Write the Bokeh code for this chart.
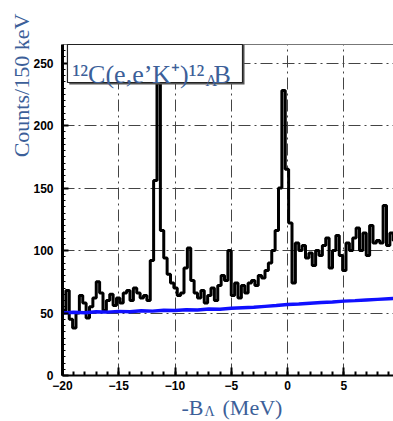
import math
from bokeh.plotting import figure
from bokeh.models import (Range1d, LinearAxis, FixedTicker, Label, BoxAnnotation)
from bokeh.embed import file_html
from bokeh.resources import INLINE

# ---------------- data ----------------
bin_start = -20.0
bin_width = 0.3
counts = [52, 68, 45, 38, 50, 64, 58, 46, 55, 62,
          75, 66, 52, 60, 65, 56, 62, 58, 66, 68,
          60, 70, 66, 62, 64, 60, 92, 156, 234, 116,
          94, 81, 74, 70, 64, 66, 86, 102, 76, 66,
          62, 68, 58, 64, 70, 60, 72, 80, 76, 100,
          64, 74, 62, 72, 66, 74, 76, 72, 80, 78,
          84, 90, 100, 116, 150, 228, 165, 122, 74, 106,
          100, 104, 94, 98, 88, 100, 96, 104, 110, 86,
          100, 112, 96, 84, 106, 100, 110, 118, 100, 114,
          96, 120, 106, 108, 106, 136, 104, 114, 108]

bg_x = [-20, -19, -18, -17, -16, -15, -14, -13, -12, -11,
        -10, -9, -8, -7, -6, -5, -4, -3, -2, -1,
        0, 1, 2, 3, 4, 5, 6, 7, 8, 9, 9.5]
bg_y = [50.0, 50.6, 50.2, 51.0, 50.7, 51.3, 51.0, 51.8, 51.5, 52.2,
        52.0, 52.6, 52.4, 53.2, 53.0, 53.8, 54.2, 54.6, 55.3, 56.0,
        56.8, 57.2, 57.8, 58.4, 58.8, 59.5, 59.9, 60.4, 60.9, 61.4, 61.6]

x_ticks = [-20, -15, -10, -5, 0, 5]
y_ticks = [0, 50, 100, 150, 200, 250]
x_min, x_max = -20.0, 9.42
y_min, y_max = 0.0, 264.8

# ---------------- figure ----------------
# frame covers the whole canvas; axes are pinned at x=-20 / y=0
W, H = 393, 421
p = figure(width=W, height=H, output_backend="svg", toolbar_location=None,
           x_range=Range1d(-25.511, 9.422), y_range=Range1d(-36.8, 300.0),
           min_border=0)
p.outline_line_color = None
p.background_fill_color = "white"
p.border_fill_color = "white"

# grid
for g in (p.xgrid, p.ygrid):
    g.grid_line_color = "#444444"
    g.grid_line_dash = "12 4 2 4"
    g.grid_line_width = 1
p.xgrid.ticker = FixedTicker(ticks=[-15, -10, -5, 0, 5])
p.ygrid.ticker = FixedTicker(ticks=[50, 100, 150, 200, 250])
gx, gy = p.xgrid[0], p.ygrid[0]
if "cross_bounds" in gx.properties():
    gx.cross_bounds = (y_min, y_max)
    gy.cross_bounds = (x_min, x_max)

# axes
xa = p.xaxis[0]
xa.ticker = FixedTicker(ticks=x_ticks, minor_ticks=[v for v in range(-20, 10)])
xa.fixed_location = y_min
xa.bounds = (x_min, x_max)
ya = p.yaxis[0]
ya.ticker = FixedTicker(ticks=y_ticks, minor_ticks=[v for v in range(0, 265, 5)])
ya.fixed_location = x_min
ya.bounds = (y_min, y_max)
for ax in (xa, ya):
    ax.axis_line_color = "black"
    ax.major_tick_line_color = "black"
    ax.minor_tick_line_color = "black"
    ax.major_tick_out = 0
    ax.minor_tick_out = 0
    ax.major_label_text_font = "Liberation Sans"
    ax.major_label_text_font_style = "bold"
    ax.major_label_text_font_size = "12px"
    ax.major_label_text_color = "black"
xa.axis_line_width = 2
xa.major_tick_in = 8
xa.minor_tick_in = 4
xa.major_tick_line_width = 2
xa.minor_tick_line_width = 2
xa.major_label_standoff = 5
ya.axis_line_width = 3
ya.major_tick_in = 6
ya.minor_tick_in = 3
ya.major_tick_line_width = 2
ya.major_label_standoff = 9

top = LinearAxis(ticker=FixedTicker(ticks=[]), axis_line_color="#777777",
                 axis_line_width=1, major_tick_line_color=None,
                 minor_tick_line_color=None, major_label_text_font_size="0px",
                 fixed_location=y_max, bounds=(x_min, x_max))
p.add_layout(top, "above")

# histogram
edges = [bin_start + bin_width * i for i in range(len(counts) + 1)]
p.step(x=edges, y=counts + [counts[-1]], mode="after",
       line_color="black", line_width=3)

# background
p.line(x=bg_x, y=bg_y, line_color="#1010ff", line_width=3.5)

# title box (with a slight shadow)
shadow = BoxAnnotation(left=-19.4, right=-3.82, top=264.8, bottom=232.8,
                       fill_color="#555555", fill_alpha=1.0, line_alpha=0)
p.add_layout(shadow)
box = BoxAnnotation(left=-19.56, right=-4.0, top=264.8, bottom=234.4,
                    fill_color="white", fill_alpha=1.0,
                    line_color="#222222", line_width=1.2, line_alpha=1.0)
p.add_layout(box)

blue = "#3c5f99"
serif = "Liberation Serif"

def lab(x, y, text, size, **kw):
    l = Label(x=x, y=y, text=text, text_font=serif, text_font_size=size,
              text_color=blue, **kw)
    p.add_layout(l)

lab(-19.11, 240.8, "\u00b9\u00b2C(e,e\u2019K\u207a)\u00b9\u00b2", "26px",
    text_baseline="alphabetic", text_align="left")
lab(-7.29, 236.0, "\u039b", "16px", text_baseline="alphabetic", text_align="left")
lab(-6.58, 240.8, "B", "26px", text_baseline="alphabetic", text_align="left")

# y label
lab(-23.64, 232.0, "Counts/150 keV", "22px", angle=math.pi / 2,
    text_baseline="middle", text_align="center")

# x label
lab(-7.467, -25.6, "-B", "22px", text_baseline="alphabetic", text_align="right")
lab(-7.38, -28.8, "\u039b", "14px", text_baseline="alphabetic", text_align="left")
lab(-5.778, -25.6, "(MeV)", "22px", text_baseline="alphabetic", text_align="left")

open("out.html", "w").write(file_html(p, INLINE))
